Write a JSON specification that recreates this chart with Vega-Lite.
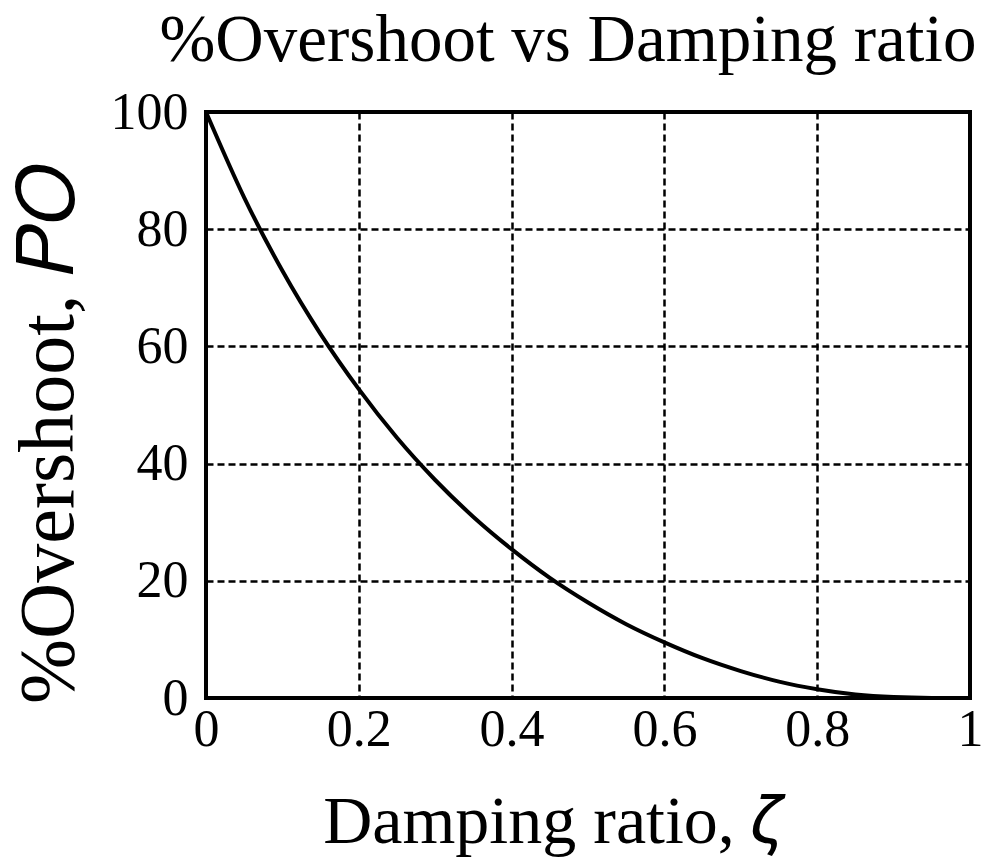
{
  "$schema": "https://vega.github.io/schema/vega-lite/v6.json",
  "width": 764,
  "height": 586,
  "autosize": {"type": "none"},
  "padding": {"left": 206, "top": 112, "right": 32, "bottom": 161},
  "background": "white",
  "title": {
    "text": "%Overshoot vs Damping ratio",
    "font": "Liberation Serif",
    "fontSize": 67,
    "fontWeight": "normal",
    "color": "black",
    "anchor": "middle",
    "dx": -20,
    "baseline": "alphabetic",
    "offset": -42
  },
  "data": {
    "values": [
      {"zeta": 0, "po": 100},
      {"zeta": 0.05, "po": 85.4},
      {"zeta": 0.1, "po": 72.9},
      {"zeta": 0.15, "po": 62.1},
      {"zeta": 0.2, "po": 52.7},
      {"zeta": 0.25, "po": 44.4},
      {"zeta": 0.3, "po": 37.2},
      {"zeta": 0.35, "po": 30.9},
      {"zeta": 0.4, "po": 25.4},
      {"zeta": 0.45, "po": 20.5},
      {"zeta": 0.5, "po": 16.3},
      {"zeta": 0.55, "po": 12.6},
      {"zeta": 0.6, "po": 9.5},
      {"zeta": 0.65, "po": 6.8},
      {"zeta": 0.7, "po": 4.6},
      {"zeta": 0.75, "po": 2.8},
      {"zeta": 0.8, "po": 1.5},
      {"zeta": 0.85, "po": 0.6},
      {"zeta": 0.9, "po": 0.15},
      {"zeta": 0.95, "po": 0.01},
      {"zeta": 1.0, "po": 0}
    ]
  },
  "mark": {"type": "line", "color": "black", "strokeWidth": 4, "interpolate": "monotone"},
  "encoding": {
    "x": {
      "field": "zeta",
      "type": "quantitative",
      "scale": {"domain": [0, 1], "nice": false},
      "axis": {
        "values": [0, 0.2, 0.4, 0.6, 0.8, 1],
        "labelExpr": "datum.value == 0 ? '0' : datum.value == 1 ? '1' : format(datum.value, '.1f')",
        "title": "Damping ratio,  𝜁",
        "titleX": 346,
        "titleY": 144,
        "titleAlign": "center",
        "titleBaseline": "alphabetic",
        "titleFontSize": 68,
        "labelPadding": 6,
        "labelDx": 6
      }
    },
    "y": {
      "field": "po",
      "type": "quantitative",
      "scale": {"domain": [0, 100], "nice": false},
      "axis": {
        "values": [0, 20, 40, 60, 80, 100],
        "title": "%Overshoot, 𝑃𝑂",
        "titleX": -134,
        "titleY": 321,
        "titleAngle": -90,
        "titleAlign": "center",
        "titleBaseline": "alphabetic",
        "titleFontSize": 78,
        "labelPadding": 18
      }
    }
  },
  "config": {
    "view": {"stroke": "black", "strokeWidth": 4},
    "axis": {
      "domain": false,
      "ticks": false,
      "grid": true,
      "gridColor": "black",
      "gridOpacity": 1,
      "gridWidth": 2.5,
      "gridDash": [7, 4],
      "labelFont": "Liberation Serif",
      "labelFontSize": 52,
      "labelColor": "black",
      "labelFlush": false,
      "labelOverlap": false,
      "labelBound": false,
      "titleFont": "Liberation Serif",
      "titleFontWeight": "normal",
      "titleColor": "black"
    }
  }
}
